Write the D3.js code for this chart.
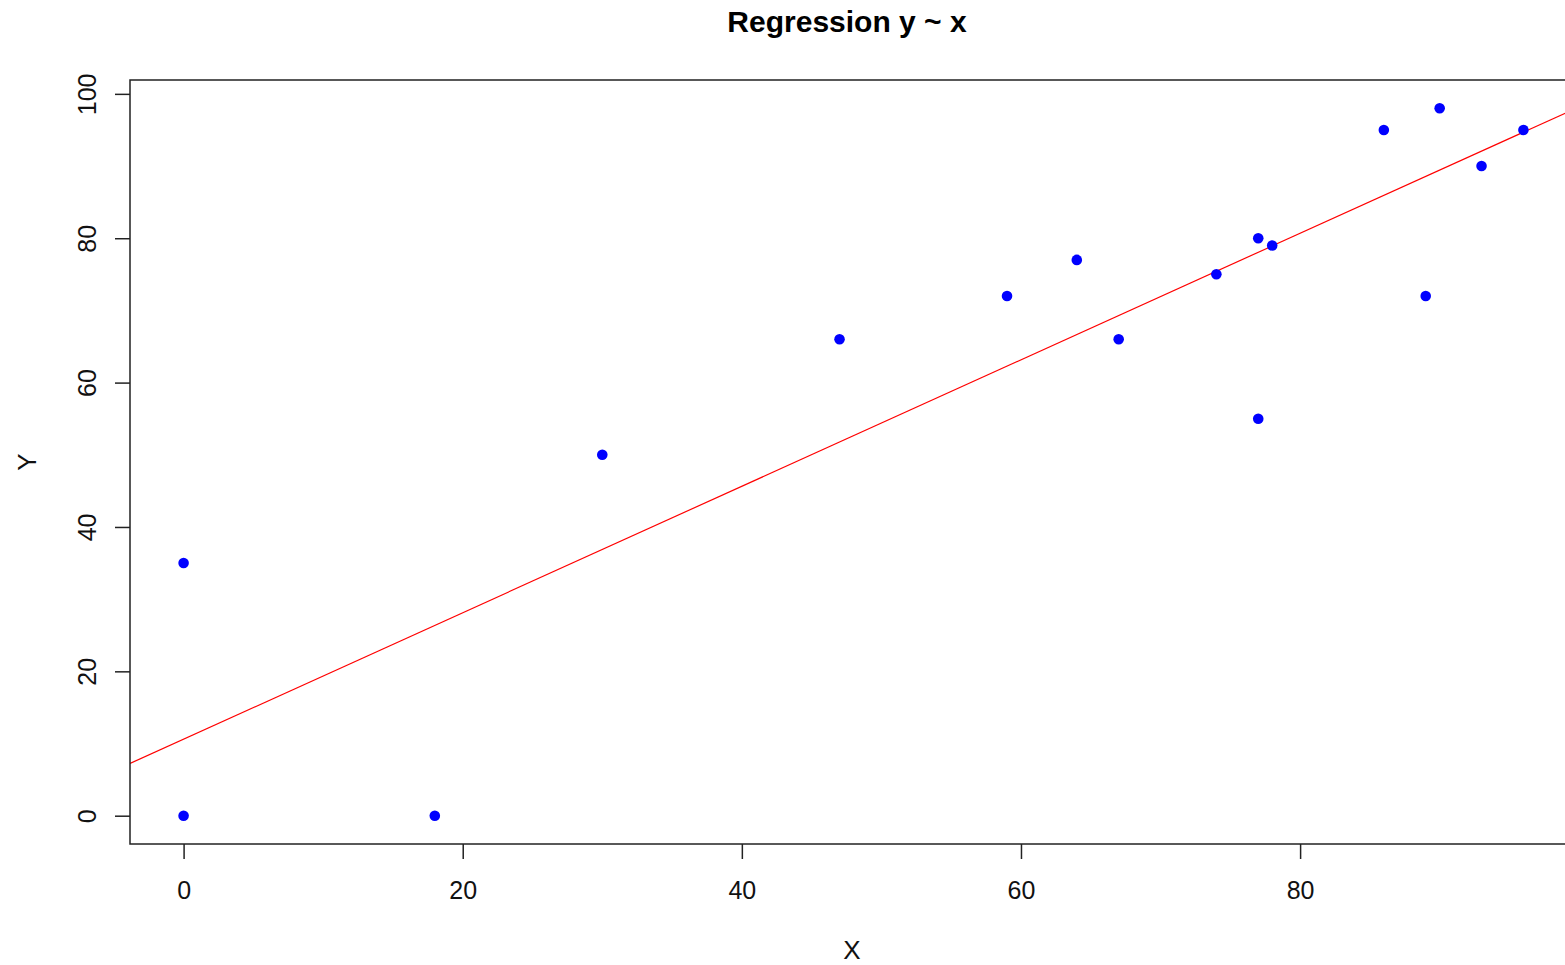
<!DOCTYPE html>
<html>
<head>
    <meta charset="UTF-8">
    <title>Regression y ~ x</title>
    <style>
        body { margin: 0; background: #fff; }
        text { font-family: "Liberation Sans", Arial, sans-serif; fill: #000; }
    </style>
</head>
<body>
    <div id="chart"></div>
    <script src="https://cdn.jsdelivr.net/npm/d3@7"></script>
    <script>
    // data
    const xValues = [0, 0, 18, 30, 47, 59, 64, 67, 74, 77, 78, 77, 86, 89, 90, 93, 96];
    const yValues = [35, 0, 0, 50, 66, 72, 77, 66, 75, 80, 79, 55, 95, 72, 98, 90, 95];
    const xTicks = [0, 20, 40, 60, 80];
    const yTicks = [0, 20, 40, 60, 80, 100];
    // fitted line as drawn (intercept, slope)
    const lineIntercept = 10.6;
    const lineSlope = 0.876;

    const W = 1565, H = 965;
    const box = {left: 130, top: 80, right: 1577, bottom: 844};

    const svg = d3.select("#chart")
        .append("svg")
        .attr("width", W)
        .attr("height", H);

    // R style 4% padding on data range
    const xPad = (d3.max(xValues) - d3.min(xValues)) * 0.04;
    const yPad = (d3.max(yValues) - d3.min(yValues)) * 0.04;
    const x = d3.scaleLinear()
        .domain([d3.min(xValues) - xPad, d3.max(xValues) + xPad])
        .range([box.left, box.right]);
    const y = d3.scaleLinear()
        .domain([d3.min(yValues) - yPad, d3.max(yValues) + yPad])
        .range([box.bottom, box.top]);

    svg.append("clipPath").attr("id", "clip")
        .append("rect")
        .attr("x", box.left).attr("y", box.top)
        .attr("width", box.right - box.left)
        .attr("height", box.bottom - box.top);

    // regression line
    const [x0, x1] = x.domain();
    svg.append("line")
        .attr("clip-path", "url(#clip)")
        .attr("x1", x(x0)).attr("y1", y(lineIntercept + lineSlope * x0))
        .attr("x2", x(x1)).attr("y2", y(lineIntercept + lineSlope * x1))
        .style("stroke", "#ff0000")
        .style("stroke-width", 1.2);

    // points
    svg.append("g")
        .selectAll("circle")
        .data(xValues.map((v, i) => ({x: v, y: yValues[i]})))
        .join("circle")
        .attr("cx", d => x(d.x))
        .attr("cy", d => y(d.y))
        .attr("r", 5.3)
        .style("fill", "#0000ff");

    // plot frame
    svg.append("rect")
        .attr("x", box.left).attr("y", box.top)
        .attr("width", box.right - box.left)
        .attr("height", box.bottom - box.top)
        .style("fill", "none")
        .style("stroke", "#222")
        .style("stroke-width", 1.5);

    // x axis
    const xAxis = svg.append("g")
        .attr("transform", `translate(0,${box.bottom})`)
        .call(d3.axisBottom(x).tickValues(xTicks).tickSize(15));
    xAxis.select(".domain").remove();
    xAxis.selectAll(".tick line").style("stroke", "#222").style("stroke-width", 1.5);
    xAxis.selectAll(".tick text")
        .attr("y", 55).attr("dy", 0)
        .style("font-family", "'Liberation Sans', Arial, sans-serif")
        .style("font-size", "25px")
        .style("fill", "#111");

    // y axis
    const yAxis = svg.append("g")
        .attr("transform", `translate(${box.left},0)`)
        .call(d3.axisLeft(y).tickValues(yTicks).tickSize(15));
    yAxis.select(".domain").remove();
    yAxis.selectAll(".tick line").style("stroke", "#222").style("stroke-width", 1.5);
    yAxis.selectAll(".tick text")
        .attr("x", 0).attr("dy", 0)
        .attr("transform", "translate(-34,0) rotate(-90)")
        .attr("text-anchor", "middle")
        .style("font-family", "'Liberation Sans', Arial, sans-serif")
        .style("font-size", "25px")
        .style("fill", "#111");

    // titles
    svg.append("text")
        .attr("x", 847).attr("y", 32)
        .attr("text-anchor", "middle")
        .style("font-size", "30px")
        .style("font-weight", "bold")
        .text("Regression y ~ x");

    svg.append("text")
        .attr("x", 852).attr("y", 959)
        .attr("text-anchor", "middle")
        .style("font-size", "26px")
        .style("fill", "#111")
        .text("X");

    svg.append("text")
        .attr("transform", `translate(36,${(box.top + box.bottom) / 2}) rotate(-90)`)
        .attr("text-anchor", "middle")
        .style("font-size", "26px")
        .style("fill", "#111")
        .text("Y");
    </script>
</body>
</html>
